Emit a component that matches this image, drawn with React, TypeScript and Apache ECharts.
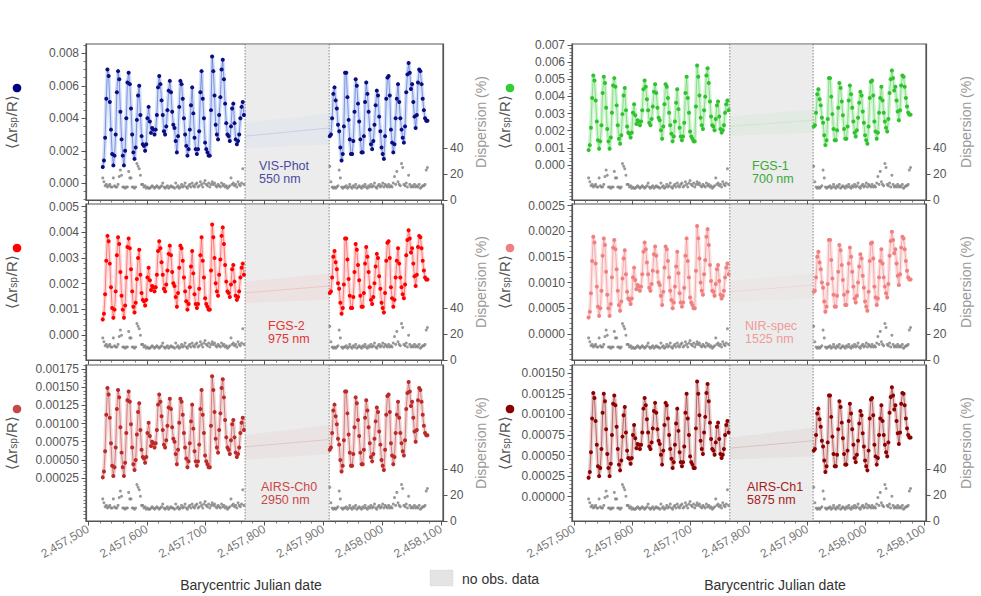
import React, { useEffect, useRef } from "react";
import * as echarts from "echarts";

// ---------- data (Δr values in units of 1e-5, dispersion in %) ----------
const BJD_ORIGIN = 2457500;
const dayOffsets = [
  25,27,29,31,33,35,37,39,41,43,
  45,47,49,51,53,55,57,59,61,63,
  65,67,69,71,73,75,77,79,81,83,
  85,87,89,91,93,95,97,99,101,103,
  105,107,109,111,113,115,117,119,121,123,
  125,127,129,131,133,135,137,139,141,143,
  145,147,149,151,153,155,157,159,161,163,
  165,167,169,171,173,175,177,179,181,183,
  185,187,189,191,193,195,197,199,201,203,
  205,207,209,211,213,215,217,219,221,223,
  225,227,229,231,233,235,237,239,241,243,
  245,247,249,251,253,255,257,259,261,263,
  265,
  411,413,415,417,419,421,423,425,427,429,
  431,433,435,437,439,441,443,445,447,449,
  451,453,455,457,459,461,463,465,467,469,
  471,473,475,477,479,481,483,485,487,489,
  491,493,495,497,499,501,503,505,507,509,
  511,513,515,517,519,521,523,525,527,529,
  531,533,535,537,539,541,543,545,547,549,
  551,553,555,557,559,561,563,565,567,569,
  571,573,575,577,
];

const dispersionPct = [
  17,14,11,12,10,11,12,10,10,17,
  11,10,10,12,18,23,19,10,10,9,
  10,10,22,17,17,10,10,9,10,28,
  26,24,19,12,12,10,11,9,10,9,
  9,10,11,10,9,10,11,10,9,10,
  11,13,10,9,10,11,9,10,11,10,
  10,9,13,10,11,9,10,12,10,11,
  13,10,9,11,12,10,13,11,10,12,
  13,10,11,14,12,10,13,15,12,11,
  13,10,12,14,12,13,11,10,12,11,
  10,13,11,12,10,11,9,10,11,17,
  12,13,11,12,10,14,12,11,13,24,
  12,
  26,14,10,9,10,9,10,11,23,17,
  10,9,10,10,11,9,10,12,10,9,
  11,10,12,9,10,11,10,9,11,10,
  12,10,9,11,10,12,10,11,13,10,
  9,11,12,10,11,13,10,12,11,10,
  12,10,11,10,13,18,12,22,14,12,
  11,28,25,12,11,13,10,19,12,10,
  11,10,12,10,11,10,12,9,10,11,
  11,12,23,25,
];

const visPhot = [
  100,140,280,520,700,660,500,330,180,110,
  170,300,560,690,640,440,270,170,110,200,
  400,620,680,610,460,300,190,150,220,390,
  540,600,420,290,240,230,200,240,400,470,
  380,310,340,330,300,330,420,590,660,610,
  510,420,320,300,350,450,570,630,560,440,
  360,340,260,190,290,470,630,610,520,400,
  300,230,170,210,330,480,590,430,280,210,
  180,210,320,560,690,520,400,250,210,190,
  170,170,450,780,690,540,360,300,270,420,
  530,700,760,640,490,370,300,290,260,350,
  460,490,370,270,240,260,300,400,470,500,
  420,
  290,300,400,550,590,510,460,360,320,220,
  140,180,350,680,680,530,390,270,180,180,
  260,440,640,600,490,380,270,190,190,290,
  500,620,550,440,330,240,210,260,360,480,
  570,540,410,320,220,180,150,290,520,650,
  660,540,330,250,190,240,400,520,610,500,
  400,330,280,250,350,560,670,740,680,580,
  610,500,410,340,420,620,700,690,610,520,
  450,400,385,385,
];

const fgs1 = [
  87,116,218,391,522,493,377,254,145,95,
  138,232,420,515,478,334,210,138,95,160,
  305,464,507,457,348,232,153,124,174,297,
  406,449,319,225,189,182,160,189,305,355,
  290,239,261,254,232,254,319,442,493,457,
  384,319,247,232,268,341,428,471,420,334,
  276,261,203,153,225,355,471,457,391,305,
  232,182,138,167,254,363,442,326,218,167,
  145,167,247,420,515,391,305,196,167,153,
  138,138,341,580,515,406,276,232,210,319,
  399,522,565,478,370,283,232,225,203,268,
  348,370,283,210,189,203,232,305,355,377,
  319,
  225,232,305,413,442,384,348,276,247,174,
  116,145,268,507,507,399,297,210,145,145,
  203,334,478,449,370,290,210,153,153,225,
  377,464,413,334,254,189,167,203,276,363,
  428,406,312,247,174,145,124,225,391,486,
  493,406,254,196,153,189,305,391,457,377,
  305,254,218,196,268,420,500,551,507,435,
  457,377,312,261,319,464,522,515,457,391,
  341,305,294,294,
];

const fgs2 = [
  61,83,159,289,386,365,278,186,105,67,
  99,170,311,381,354,245,153,99,67,115,
  224,343,376,338,256,170,110,88,126,218,
  300,332,235,164,137,132,115,137,224,262,
  213,175,191,186,170,186,235,327,365,338,
  283,235,180,170,197,251,316,348,311,245,
  202,191,148,110,164,262,348,338,289,224,
  170,132,99,121,186,267,327,240,159,121,
  105,121,180,311,381,289,224,143,121,110,
  99,99,251,430,381,300,202,170,153,235,
  294,386,419,354,273,208,170,164,148,197,
  256,273,208,153,137,148,170,224,262,278,
  235,
  164,170,224,305,327,283,256,202,180,126,
  83,105,197,376,376,294,218,153,105,105,
  148,245,354,332,273,213,153,110,110,164,
  278,343,305,245,186,137,121,148,202,267,
  316,300,229,180,126,105,88,164,289,359,
  365,300,186,143,110,137,224,289,338,278,
  224,186,159,143,197,311,370,408,376,321,
  338,278,229,191,235,343,386,381,338,289,
  251,224,216,216,
];

const nirSpec = [
  32,43,79,142,189,178,137,92,53,35,
  50,84,152,186,173,121,76,50,35,58,
  110,168,183,165,126,84,56,45,63,108,
  147,163,116,82,69,66,58,69,110,129,
  105,87,95,92,84,92,116,160,178,165,
  139,116,90,84,97,123,155,170,152,121,
  100,95,74,56,82,129,170,165,142,110,
  84,66,50,61,92,131,160,118,79,61,
  53,61,90,152,186,142,110,71,61,56,
  50,50,123,210,186,147,100,84,76,116,
  144,189,204,173,134,103,84,82,74,97,
  126,134,103,76,69,74,84,110,129,137,
  116,
  82,84,110,150,160,139,126,100,90,63,
  43,53,97,183,183,144,108,76,53,53,
  74,121,173,163,134,105,76,56,56,82,
  137,168,150,121,92,69,61,74,100,131,
  155,147,113,90,63,53,45,82,142,176,
  178,147,92,71,56,69,110,142,165,137,
  110,92,79,71,97,152,181,199,183,157,
  165,137,113,95,116,168,189,186,165,142,
  123,110,106,106,
];

const airsCh0 = [
  26,34,62,112,149,140,108,73,42,28,
  40,67,120,146,136,95,60,40,28,46,
  87,132,144,130,99,67,44,36,50,85,
  116,128,91,64,54,52,46,54,87,101,
  83,69,75,73,67,73,91,126,140,130,
  110,91,71,67,77,97,122,134,120,95,
  79,75,58,44,64,101,134,130,112,87,
  67,52,40,48,73,103,126,93,62,48,
  42,48,71,120,146,112,87,56,48,44,
  40,40,97,165,146,116,79,67,60,91,
  114,149,161,136,105,81,67,64,58,77,
  99,105,81,60,54,58,67,87,101,108,
  91,
  64,67,87,118,126,110,99,79,71,50,
  34,42,77,144,144,114,85,60,42,42,
  58,95,136,128,105,83,60,44,44,64,
  108,132,118,95,73,54,48,58,79,103,
  122,116,89,71,50,42,36,64,112,138,
  140,116,73,56,44,54,87,112,130,108,
  87,73,62,56,77,120,142,157,144,124,
  130,108,89,75,91,132,149,146,130,112,
  97,87,84,84,
];

const airsCh1 = [
  23,30,54,95,126,120,92,63,37,25,
  35,58,102,125,116,82,52,35,25,40,
  75,113,123,111,85,58,39,32,44,73,
  99,109,78,56,47,46,40,47,75,87,
  71,59,64,63,58,63,78,107,120,111,
  94,78,61,58,66,83,104,114,102,82,
  68,64,51,39,56,87,114,111,95,75,
  58,46,35,42,63,89,107,80,54,42,
  37,42,61,102,125,95,75,49,42,39,
  35,35,83,140,125,99,68,58,52,78,
  97,126,137,116,90,70,58,56,51,66,
  85,90,70,52,47,51,58,75,87,92,
  78,
  56,58,75,101,107,94,85,68,61,44,
  30,37,66,123,123,97,73,52,37,37,
  51,82,116,109,90,71,52,39,39,56,
  92,113,101,82,63,47,42,51,68,89,
  104,99,77,61,44,37,32,56,95,118,
  120,99,63,49,39,47,75,95,111,92,
  75,63,54,49,66,102,121,133,123,106,
  111,92,77,64,78,113,126,125,111,95,
  83,75,72,72,
];

// gap model across the no-observation window: [meanStart, meanEnd, lowStart, lowEnd, highStart, highEnd]
const visGap = [290, 340, 215, 240, 370, 430];
const fgs1Gap = [225, 261, 171, 189, 283, 326];
const fgs2Gap = [164, 191, 124, 137, 208, 240];
const nirGap = [82, 95, 62, 69, 103, 118];
const airs0Gap = [68, 78, 50, 58, 84, 98];
const airs1Gap = [59, 68, 45, 49, 72, 84];

const noObsWindow = [2457767, 2457910];

// ticks
const xTicks = [2457500, 2457600, 2457700, 2457800, 2457900, 2458000, 2458100];
const dispersionTicks = [0, 20, 40];
const visTicks = [0, 200, 400, 600, 800];
const fgs1Ticks = [0, 100, 200, 300, 400, 500, 600, 700];
const fgs2Ticks = [0, 100, 200, 300, 400, 500];
const nirTicks = [0, 50, 100, 150, 200, 250];
const airs0Ticks = [25, 50, 75, 100, 125, 150, 175];
const airs1Ticks = [0, 25, 50, 75, 100, 125, 150];

// ---------- layout / style ----------
const FONT = "'Liberation Sans', Arial, Helvetica, sans-serif";
const FRAME = "#555555";
const X_MIN = 2457496.5;
const X_MAX = 2458103.5;
const colLeft = [86, 572];
const colWidth = [357, 354];
const rowTop = [44, 204, 365];
const PANEL_H = 156;
const nameX = [11, 504];
const dispNameX = [481, 966];

const panels = [
  { label: "VIS-Phot", wl: "550 nm", values: visPhot, ticks: visTicks, gap: visGap, yMin: -103, yMax: 857, minorStep: 50, dec: 3, col: 0, row: 0,
    marker: "#0c0c80", line: "#3a55c8", band: "rgba(100,149,237,0.28)", gapFill: "rgba(100,149,237,0.06)", text: "#4a4aa2", dot: "#000080", labelX: 259 },
  { label: "FGS-1", wl: "700 nm", values: fgs1, ticks: fgs1Ticks, gap: fgs1Gap, yMin: -204, yMax: 706, minorStep: 20, dec: 3, col: 1, row: 0,
    marker: "#2fc22f", line: "#50d050", band: "rgba(50,205,50,0.22)", gapFill: "rgba(50,205,50,0.05)", text: "#3aa83a", dot: "#32cd32", labelX: 752 },
  { label: "FGS-2", wl: "975 nm", values: fgs2, ticks: fgs2Ticks, gap: fgs2Gap, yMin: -97, yMax: 510, minorStep: 20, dec: 3, col: 0, row: 1,
    marker: "#ff0000", line: "#ff3030", band: "rgba(255,0,0,0.15)", gapFill: "rgba(255,0,0,0.04)", text: "#e33535", dot: "#ff0000", labelX: 268 },
  { label: "NIR-spec", wl: "1525 nm", values: nirSpec, ticks: nirTicks, gap: nirGap, yMin: -51, yMax: 253, minorStep: 10, dec: 4, col: 1, row: 1,
    marker: "#f08080", line: "#f08080", band: "rgba(240,128,128,0.22)", gapFill: "rgba(240,128,128,0.05)", text: "#f09a9a", dot: "#f08080", labelX: 745 },
  { label: "AIRS-Ch0", wl: "2950 nm", values: airsCh0, ticks: airs0Ticks, gap: airs0Gap, yMin: -34, yMax: 180.5, minorStep: 5, dec: 5, col: 0, row: 2,
    marker: "#bb2a2a", line: "#c23a3a", band: "rgba(178,34,34,0.18)", gapFill: "rgba(178,34,34,0.04)", text: "#cc4646", dot: "#c84848", labelX: 261 },
  { label: "AIRS-Ch1", wl: "5875 nm", values: airsCh1, ticks: airs1Ticks, gap: airs1Gap, yMin: -29.5, yMax: 160, minorStep: 5, dec: 5, col: 1, row: 2,
    marker: "#8b0000", line: "#961414", band: "rgba(139,0,0,0.18)", gapFill: "rgba(139,0,0,0.04)", text: "#a52020", dot: "#8b0000", labelX: 747 },
];

function minorTicks(min: number, max: number, step: number, majors: number[]) {
  const out: number[] = [];
  for (let v = Math.ceil(min / step) * step; v <= max + 1e-9; v += step) {
    const r = Math.round(v * 1000) / 1000;
    if (!majors.some((m) => Math.abs(m - r) < 1e-6)) out.push(r);
  }
  return out;
}

const commaFmt = (v: number) => String(Math.round(v)).replace(/\B(?=(\d{3})+(?!\d))/g, ",");

function seriesPoints(vals: number[]) {
  const out: any[] = [];
  dayOffsets.forEach((d, i) => {
    if (i > 0 && d - dayOffsets[i - 1] > 30) {
      out.push([BJD_ORIGIN + (d + dayOffsets[i - 1]) / 2, "-"]);
    }
    out.push([BJD_ORIGIN + d, vals[i]]);
  });
  return out;
}

const dispersionPoints = dayOffsets.map((d, i) => [BJD_ORIGIN + d, dispersionPct[i]]);

function centeredText(x: number, y: number, text: string, size: number, color: string, extra: any = {}) {
  return {
    type: "text", x, y, z: 100, ...extra,
    style: { text, fontSize: size, fontFamily: FONT, fill: color,
      textAlign: "center", textVerticalAlign: "middle", align: "center", verticalAlign: "middle" },
  };
}

function buildOption() {
  const grid: any[] = [];
  const xAxis: any[] = [];
  const yAxis: any[] = [];
  const series: any[] = [];
  const graphic: any[] = [];
  const xMinor = minorTicks(X_MIN, X_MAX, 20, xTicks);

  panels.forEach((p, i) => {
    const top = rowTop[p.row];
    const cy = top + PANEL_H / 2;
    grid.push({ left: colLeft[p.col], top, width: colWidth[p.col], height: PANEL_H, show: true, borderColor: FRAME, borderWidth: 1.2, backgroundColor: "transparent" });

    xAxis.push({
      type: "value", gridIndex: i, min: X_MIN, max: X_MAX, position: "bottom",
      axisLine: { show: true, onZero: false, lineStyle: { color: FRAME, width: 1.2 } },
      axisTick: { show: true, customValues: xTicks, length: 4.5, lineStyle: { color: FRAME, width: 1 } },
      axisLabel: { show: p.row === 2, customValues: xTicks, rotate: 30, margin: 7, color: "#777", fontSize: 12, fontFamily: FONT, formatter: commaFmt },
      splitLine: { show: false },
    });
    xAxis.push({
      type: "value", gridIndex: i, min: X_MIN, max: X_MAX, position: "bottom",
      axisLine: { show: false, onZero: false },
      axisTick: { show: true, customValues: xMinor, length: 2.5, lineStyle: { color: FRAME, width: 0.8 } },
      axisLabel: { show: false }, splitLine: { show: false },
    });

    yAxis.push({
      type: "value", gridIndex: i, position: "left", min: p.yMin, max: p.yMax,
      axisLine: { show: true, onZero: false, lineStyle: { color: FRAME, width: 1.2 } },
      axisTick: { show: true, customValues: p.ticks, length: 4.5, lineStyle: { color: FRAME, width: 1 } },
      axisLabel: { show: true, customValues: p.ticks, margin: 7, color: "#555", fontSize: 12, fontFamily: FONT, formatter: (v: number) => (v / 1e5).toFixed(p.dec) },
      splitLine: { show: false },
    });
    yAxis.push({
      type: "value", gridIndex: i, position: "left", min: p.yMin, max: p.yMax,
      axisLine: { show: false, onZero: false },
      axisTick: { show: true, customValues: minorTicks(p.yMin, p.yMax, p.minorStep, p.ticks), length: 2.5, lineStyle: { color: FRAME, width: 0.8 } },
      axisLabel: { show: false }, splitLine: { show: false },
    });
    yAxis.push({
      type: "value", gridIndex: i, position: "right", min: 0, max: 120,
      axisLine: { show: true, onZero: false, lineStyle: { color: FRAME, width: 1.2 } },
      axisTick: { show: true, customValues: dispersionTicks, length: 4.5, lineStyle: { color: FRAME, width: 1 } },
      axisLabel: { show: true, customValues: dispersionTicks, margin: 7, color: "#555", fontSize: 12, fontFamily: FONT },
      splitLine: { show: false },
    });

    const xi = 2 * i;
    const yi = 3 * i;

    // no-observation window
    series.push({
      type: "custom", xAxisIndex: xi, yAxisIndex: yi, z: 1, silent: true,
      data: [[noObsWindow[0], 0, noObsWindow[1]]],
      encode: { x: [0, 2], y: 1 },
      renderItem: (params: any, api: any) => {
        const x0 = api.coord([api.value(0), 0])[0];
        const x1 = api.coord([api.value(2), 0])[0];
        const cs = params.coordSys;
        const dash = { stroke: "#6a6a6a", lineWidth: 0.8, lineDash: [1.5, 1.5] };
        return {
          type: "group",
          children: [
            { type: "rect", shape: { x: x0, y: cs.y + 0.7, width: x1 - x0, height: cs.height - 1.4 }, style: { fill: "#ececec" } },
            { type: "line", shape: { x1: x0, y1: cs.y, x2: x0, y2: cs.y + cs.height }, style: dash },
            { type: "line", shape: { x1: x1, y1: cs.y, x2: x1, y2: cs.y + cs.height }, style: dash },
          ],
        };
      },
    });

    // model band across the gap
    series.push({
      type: "custom", xAxisIndex: xi, yAxisIndex: yi, z: 2, silent: true,
      data: [[noObsWindow[0], p.gap[2], p.gap[4], noObsWindow[1], p.gap[3], p.gap[5]]],
      encode: { x: [0, 3], y: [1, 2, 4, 5] },
      renderItem: (params: any, api: any) => {
        const a = api.coord([api.value(0), api.value(2)]);
        const b = api.coord([api.value(3), api.value(5)]);
        const c = api.coord([api.value(3), api.value(4)]);
        const d = api.coord([api.value(0), api.value(1)]);
        return { type: "polygon", shape: { points: [a, b, c, d] }, style: { fill: p.gapFill } };
      },
    });
    series.push({
      type: "line", xAxisIndex: xi, yAxisIndex: yi, z: 2, silent: true, symbol: "none",
      data: [[noObsWindow[0], p.gap[0]], [noObsWindow[1], p.gap[1]]],
      lineStyle: { color: p.line, width: 0.8, opacity: 0.2 },
    });

    // dispersion
    series.push({
      type: "scatter", xAxisIndex: xi, yAxisIndex: yi + 2, z: 3, silent: true,
      data: dispersionPoints, symbolSize: 3, itemStyle: { color: "#808080" },
    });

    const pts = seriesPoints(p.values);
    // uncertainty band
    series.push({
      type: "line", xAxisIndex: xi, yAxisIndex: yi, z: 3, silent: true, symbol: "none", showSymbol: false,
      data: pts, lineStyle: { color: p.band, width: 4, join: "round", cap: "round" },
    });
    // values
    series.push({
      type: "line", xAxisIndex: xi, yAxisIndex: yi, z: 4, silent: true,
      symbol: "circle", symbolSize: 4, showSymbol: true,
      data: pts, itemStyle: { color: p.marker }, lineStyle: { color: p.line, width: 0.7, opacity: 0.8 },
    });

    // axis names
    graphic.push({
      type: "group", x: nameX[p.col], y: cy, rotation: Math.PI / 2, z: 100,
      children: [
        { type: "text", x: 0, y: 0,
          style: { text: "⟨Δr{s|sp}/R⟩", fontSize: 15, fontFamily: FONT, fill: "#555",
            textAlign: "center", textVerticalAlign: "middle", align: "center", verticalAlign: "middle",
            rich: { s: { fontSize: 10, fontFamily: FONT, fill: "#555", verticalAlign: "bottom", padding: [4, 1, 0, 0] } } } },
        { type: "circle", shape: { cx: 34, cy: 6, r: 4.3 }, style: { fill: p.dot } },
      ],
    });
    graphic.push(centeredText(dispNameX[p.col], cy, "Dispersion (%)", 14, "#999", { rotation: Math.PI / 2 }));
    // panel labels (two lines)
    graphic.push({
      type: "text", x: p.labelX, y: top + 122, z: 100,
      style: { text: p.label, fontSize: 12.5, fontFamily: FONT, fill: p.text, textAlign: "left", textVerticalAlign: "middle", align: "left", verticalAlign: "middle" },
    });
    graphic.push({
      type: "text", x: p.labelX, y: top + 135, z: 100,
      style: { text: p.wl, fontSize: 12.5, fontFamily: FONT, fill: p.text, textAlign: "left", textVerticalAlign: "middle", align: "left", verticalAlign: "middle" },
    });
  });

  graphic.push(centeredText(251, 585, "Barycentric Julian date", 14, "#333"));
  graphic.push(centeredText(775, 585, "Barycentric Julian date", 14, "#333"));
  graphic.push({ type: "rect", z: 100, shape: { x: 430, y: 570, width: 23, height: 16 },
    style: { fill: "#e4e4e4", stroke: "#d0d0d0", lineWidth: 0.6, lineDash: [1.5, 1.5] } });
  graphic.push({ type: "text", x: 462, y: 578.5, z: 100,
    style: { text: "no obs. data", fontSize: 14, fontFamily: FONT, fill: "#333", textAlign: "left", textVerticalAlign: "middle", align: "left", verticalAlign: "middle" } });

  return {
    animation: false,
    backgroundColor: "#ffffff",
    textStyle: { fontFamily: FONT },
    grid, xAxis, yAxis, series, graphic,
  };
}

export default function App() {
  const ref = useRef<HTMLDivElement>(null);
  useEffect(() => {
    if (!ref.current) return;
    const chart = echarts.init(ref.current, null, { renderer: "svg" });
    chart.setOption(buildOption() as any);
    return () => chart.dispose();
  }, []);
  return <div ref={ref} style={{ position: "fixed", left: 0, top: 0, width: 981, height: 596 }} />;
}
